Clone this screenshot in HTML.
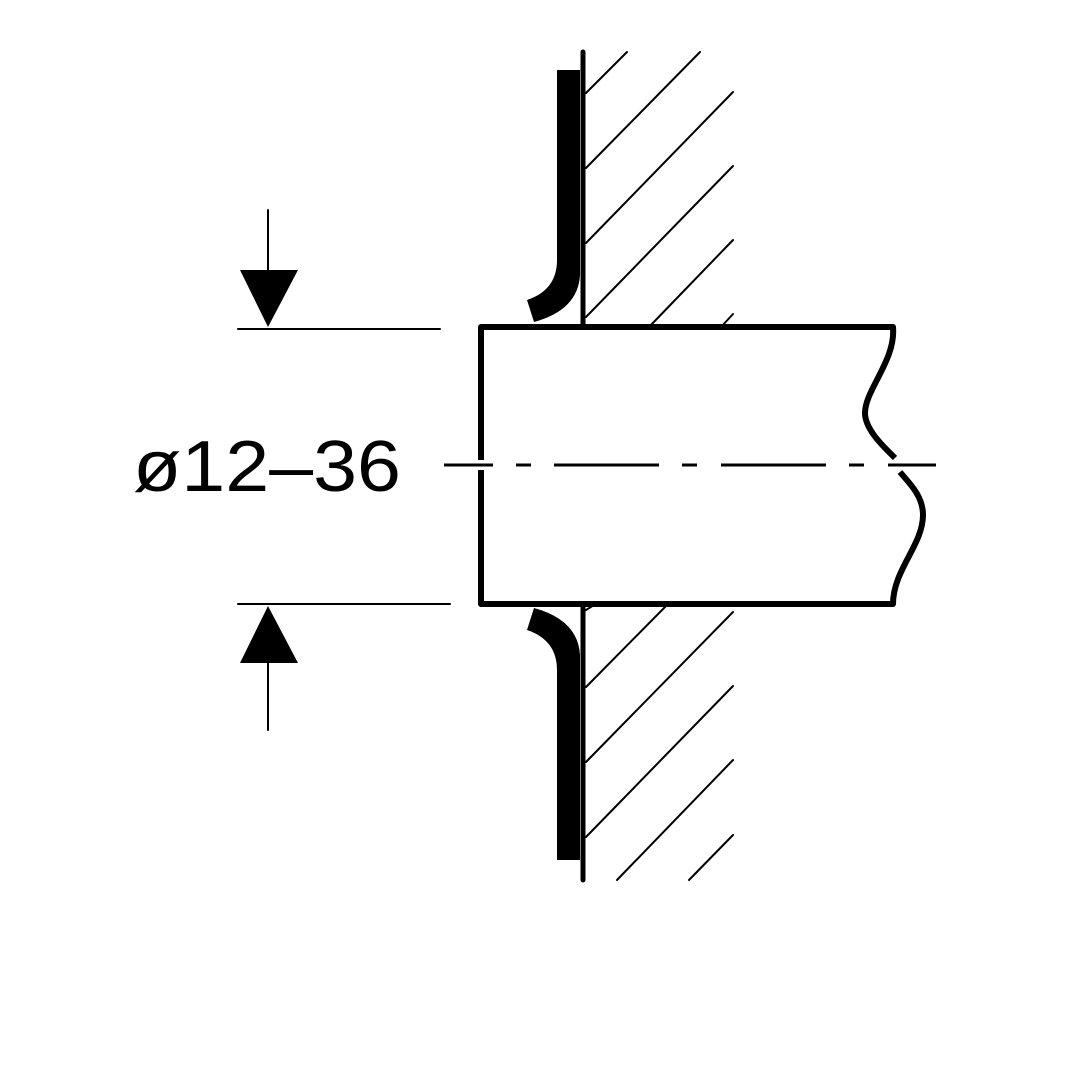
<!DOCTYPE html>
<html><head><style>html,body{margin:0;padding:0;background:#fff}</style></head><body>
<svg width="1080" height="1080" viewBox="0 0 1080 1080" xmlns="http://www.w3.org/2000/svg">
<rect width="1080" height="1080" fill="#fff"/>
<g stroke="#000" stroke-width="2" stroke-linecap="round" fill="none">
<line x1="586" y1="93" x2="627" y2="52"/>
<line x1="586" y1="168" x2="700" y2="52"/>
<line x1="586" y1="243" x2="733" y2="92"/>
<line x1="586" y1="317" x2="733" y2="166"/>
<line x1="650" y1="326" x2="733" y2="240"/>
<line x1="722" y1="326" x2="733" y2="314"/>
<line x1="586" y1="610" x2="594" y2="605"/>
<line x1="586" y1="687" x2="666" y2="606"/>
<line x1="586" y1="762" x2="733" y2="612"/>
<line x1="586" y1="837" x2="733" y2="686"/>
<line x1="617" y1="880" x2="733" y2="760"/>
<line x1="689" y1="880" x2="733" y2="835"/>
<line x1="268" y1="210" x2="268" y2="275"/>
<line x1="268" y1="660" x2="268" y2="730"/>
<line x1="238" y1="329" x2="440" y2="329"/>
<line x1="238" y1="604" x2="450" y2="604"/>
</g>
<line x1="583" y1="52" x2="583" y2="327" stroke="#000" stroke-width="5" stroke-linecap="round"/>
<line x1="583" y1="604" x2="583" y2="880" stroke="#000" stroke-width="5" stroke-linecap="round"/>
<path d="M557 70 H580 V275 Q578 310 534 322 L527 300 Q557 290 557 260 Z" fill="#000"/>
<path d="M557 860 H580 V655 Q578 620 534 608 L527 630 Q557 640 557 670 Z" fill="#000"/>
<polygon points="240,270 298,270 268,327" fill="#000"/>
<polygon points="240,663 298,663 268,606" fill="#000"/>
<g stroke="#000" stroke-width="6" fill="none" stroke-linejoin="round">
<path d="M481 460 V327 H893 C896 360 865 390 865 413 C865 430 885 448 895 458"/>
<path d="M481 470 V604 H893 C893 570 923 545 923 515 C923 495 908 482 900 472"/>
</g>
<g stroke="#000" stroke-width="3">
<line x1="444" y1="465" x2="493" y2="465"/>
<line x1="516" y1="465" x2="531" y2="465"/>
<line x1="554" y1="465" x2="659" y2="465"/>
<line x1="682" y1="465" x2="697" y2="465"/>
<line x1="721" y1="465" x2="826" y2="465"/>
<line x1="849" y1="465" x2="864" y2="465"/>
<line x1="888" y1="465" x2="936" y2="465"/>
</g>
<text x="133" y="491" font-family="Liberation Sans, sans-serif" font-size="72" fill="#000" textLength="268" lengthAdjust="spacingAndGlyphs">ø12–36</text>
</svg>
</body></html>
